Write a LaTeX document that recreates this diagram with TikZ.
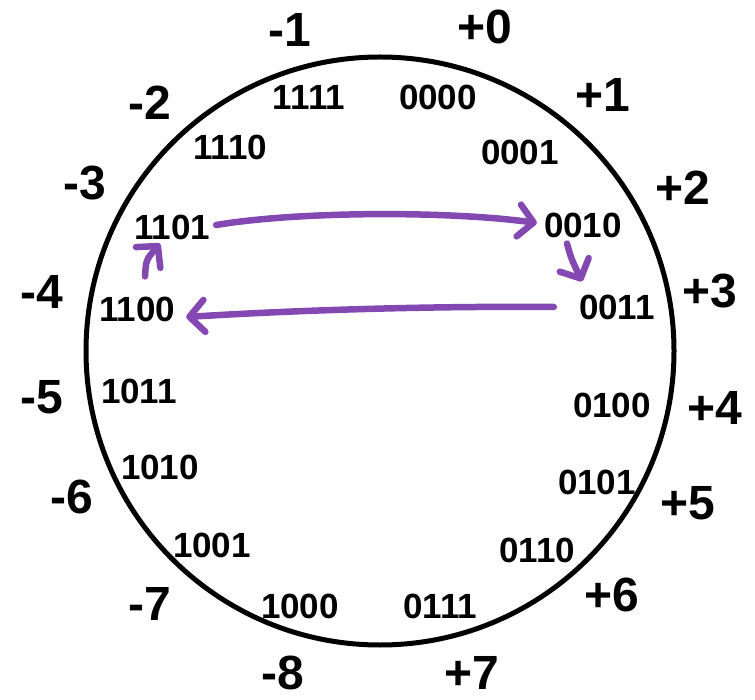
\documentclass[tikz,border=0pt]{standalone}
\usepackage{fontspec}
\setmainfont{Liberation Sans}
\usetikzlibrary{arrows.meta}
\definecolor{arrowpurple}{RGB}{131,72,178}
\tikzset{
  lbl/.style={inner sep=0pt, font=\bfseries\fontsize{48}{48}\selectfont},
  bin/.style={inner sep=0pt, font=\bfseries\fontsize{35}{35}\selectfont},
  parrow/.style={draw=arrowpurple, line width=6.5pt, line cap=round, line join=round,
    -{Straight Barb[length=15pt,width=32pt,line cap=round,line join=round]}}
}
\begin{document}
\begin{tikzpicture}[x=1pt,y=-1pt]
\useasboundingbox (0,0) rectangle (755,700);
\node[draw, circle, line width=5pt, minimum size=588pt, inner sep=0pt] (ring) at (380,351) {};
% outer labels
\node[lbl] (p0) at (485,27) {+0};
\node[lbl] (m1) at (290,30) {-1};
\node[lbl] (p1) at (603,95) {+1};
\node[lbl] (m2) at (150,103) {-2};
\node[lbl] (p2) at (683,188) {+2};
\node[lbl] (m3) at (85,183) {-3};
\node[lbl] (p3) at (710,291) {+3};
\node[lbl] (m4) at (42,292) {-4};
\node[lbl] (p4) at (715,408) {+4};
\node[lbl] (m5) at (42,397) {-5};
\node[lbl] (p5) at (688,503) {+5};
\node[lbl] (m6) at (72,497) {-6};
\node[lbl] (p6) at (612,595) {+6};
\node[lbl] (m7) at (150,604) {-7};
\node[lbl] (p7) at (472,673) {+7};
\node[lbl] (m8) at (283,673) {-8};
% binary patterns
\node[bin] (b0000) at (438,97) {0000};
\node[bin] (b1111) at (309,97) {1111};
\node[bin] (b0001) at (520,152) {0001};
\node[bin] (b1110) at (230,147) {1110};
\node[bin] (b0010) at (583,225) {0010};
\node[bin] (b1101) at (172,227) {1101};
\node[bin] (b0011) at (617,307) {0011};
\node[bin] (b1100) at (137,309) {1100};
\node[bin] (b1011) at (139,391) {1011};
\node[bin] (b0100) at (612,405) {0100};
\node[bin] (b1010) at (160,467) {1010};
\node[bin] (b0101) at (597,482) {0101};
\node[bin] (b1001) at (212,545) {1001};
\node[bin] (b0110) at (537,550) {0110};
\node[bin] (b1000) at (300,606) {1000};
\node[bin] (b0111) at (440,606) {0111};
% purple arrows
\draw[parrow] ([xshift=6pt,yshift=2pt]b1101.east) .. controls (300,211) and (450,211) .. ([xshift=-7pt,yshift=2pt]b0010.west);
\draw[parrow] ([xshift=-16pt,yshift=-6pt]b0010.south) .. controls (571,258) .. ([xshift=-35pt,yshift=13pt]b0011.north);
\draw[parrow] ([xshift=-25pt]b0011.west) .. controls (430,306) and (300,310) .. ([xshift=11pt,yshift=-8pt]b1100.east);
\draw[parrow] ([xshift=8pt,yshift=20pt]b1100.north) .. controls (146,260) .. ([xshift=-12pt,yshift=-4pt]b1101.south);
\end{tikzpicture}
\end{document}
